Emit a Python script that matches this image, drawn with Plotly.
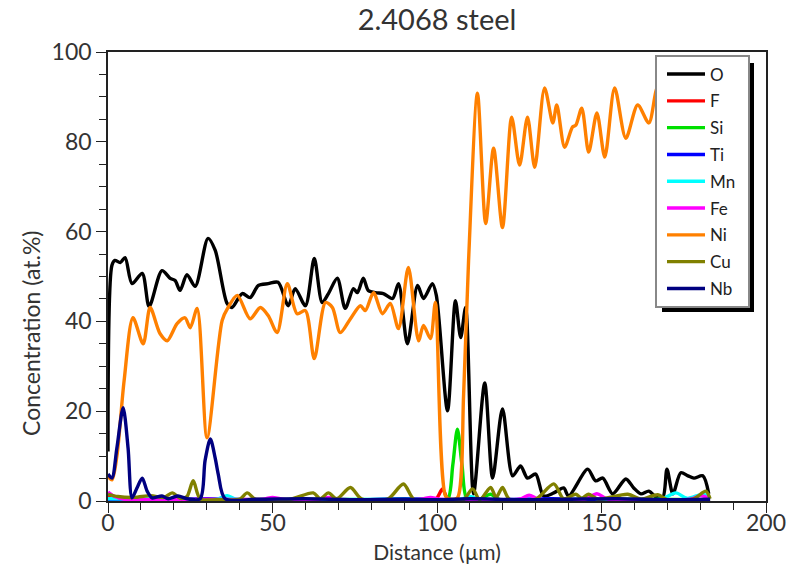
import plotly.graph_objects as go

# Line-scan positions (µm) and concentrations (at.%) for each element
o_x = [0, 1.2, 2.1, 3.7, 5.2, 7.3, 10.4, 12.5, 16.4, 18.9, 20.4, 21.9, 24.0, 26.5, 30.4, 32.6,
       36.2, 37.7, 40.8, 43.2, 45.7, 48.7, 51.7, 54.8, 56.9, 60.0, 62.7, 65.1, 67.0, 69.7, 72.1,
       74.6, 75.8, 77.6, 79.1, 81.3, 83.7, 86.5, 88.3, 91.0, 94.1, 95.9, 98.6, 99.8, 103.2,
       105.6, 107.2, 108.7, 111.1, 114.5, 116.9, 119.9, 123.0, 125.4, 127.5, 130.0, 132.4,
       135.5, 138.5, 140.0, 145.8, 148.2, 150.4, 153.4, 157.4, 159.8, 162.0, 164.4, 166.5,
       168.6, 169.9, 171.7, 174.1, 176.3, 178.1, 180.8, 182.6]
o_y = [11, 52.5, 53.6, 53.1, 54.2, 48.4, 50.7, 43.3, 51.3, 49.6, 49.1, 46.9, 50.4, 47.8, 58.5, 55.8,
       44.0, 43.1, 46.2, 45.3, 48.0, 48.4, 48.7, 43.5, 47.3, 43.5, 54.0, 44.2, 46.2, 49.6, 42.9,
       47.3, 46.4, 49.6, 46.9, 46.4, 46.2, 45.1, 48.4, 35.0, 48.0, 45.1, 48.4, 45.8, 20.1,
       44.6, 36.4, 43.1, 1.6, 26.3, 5.1, 20.5, 5.6, 7.8, 5.1, 6.0, 1.1,
       1.8, 2.9, 1.1, 7.1, 4.5, 5.1, 1.6, 4.9, 2.9, 1.6, 2.2, 0.9,
       0.7, 7.1, 1.6, 6.3, 5.6, 5.1, 5.6, 1.6]

ni_x = [0, 1.2, 2.7, 4.9, 7.6, 10.7, 12.8, 15.8, 18.0, 21.0, 23.4, 25.0, 27.1, 30.1, 34.7, 36.5,
        39.3, 43.2, 46.3, 48.7, 51.4, 54.5, 57.5, 60.0, 62.7, 66.1, 68.2, 70.6, 73.7, 76.7, 78.2,
        80.7, 83.4, 85.8, 88.3, 91.3, 94.4, 95.9, 98.0, 99.5, 102.6, 104.1, 106.2, 108.1, 109.6,
        112.3, 114.8, 117.2, 119.9, 122.7, 125.1, 127.5, 129.7, 132.7, 135.2, 136.4, 138.8,
        141.2, 142.2, 144.0, 146.1, 148.6, 151.0, 154.0, 157.4, 161.0, 164.4, 167.1, 170.0,
        173.0, 176.0, 179.0, 182.6]
ni_y = [5.5, 4.7, 10.0, 26.8, 40.8, 35.0, 43.1, 37.3, 35.7, 39.5, 40.8, 38.6, 42.9, 14.1, 40.2, 43.1,
        45.8, 40.6, 43.1, 41.3, 37.5, 48.4, 41.7, 42.4, 31.7, 44.2, 43.1, 37.5, 40.6, 43.5, 42.4,
        46.4, 41.7, 44.0, 38.4, 52.0, 35.7, 39.1, 36.2, 44.2, 1.1, 0.4, 0.7, 23.9, 53.6,
        90.8, 61.8, 78.6, 60.9, 85.5, 74.8, 85.5, 74.3, 92.0, 84.2, 88.2, 78.8,
        83.3, 83.7, 87.5, 77.7, 86.4, 76.6, 92.0, 80.8, 88.2, 84.2, 92.2, 88.0,
        91.0, 86.0, 90.0, 89.0]

nb_x = [0, 1.2, 2.7, 4.6, 6.1, 7.3, 8.8, 10.4, 11.9, 13.4, 16.4, 18.3, 21.3, 24.0, 28.0, 29.5,
        31.1, 32.6, 33.5, 35.6, 45, 60, 75, 90, 100, 110, 125, 140, 155, 170, 183]
nb_y = [6.0, 5.1, 11.8, 20.8, 11.8, 0.7, 2.9, 5.1, 2.2, 0.7, 1.1, 0.5, 1.1, 0.5, 0.5, 9.0,
        13.8, 9.5, 6.0, 0.5, 0.4, 0.5, 0.3, 0.4, 0.3, 0.5, 0.3, 0.4, 0.5, 0.3, 0.4]

cu_x = [0, 3, 8, 13, 17, 19.5, 22, 24, 25.9, 28, 33, 40, 42.3, 45, 55, 62.4, 64.5, 67, 69.5, 73.7,
        77, 85, 89.8, 93, 100, 108, 110.8, 113, 116.3, 118, 119.9, 122, 130, 135.5, 138.5,
        142.2, 144, 146, 149, 158, 162, 167.1, 170, 178, 181.7, 183]
cu_y = [1.5, 1.0, 0.8, 1.2, 0.8, 1.8, 0.6, 1.0, 4.5, 0.5, 0.3, 0.4, 1.8, 0.3, 0.3, 1.8, 0.5, 1.8, 0.5, 3.0,
        0.5, 0.4, 3.8, 0.4, 0.3, 0.3, 2.7, 0.3, 3.0, 0.8, 3.0, 0.4, 0.4, 3.8, 0.5,
        1.5, 0.6, 1.5, 0.4, 1.5, 0.4, 1.4, 0.3, 0.5, 2.2, 0.5]

si_x = [0, 20, 40, 60, 80, 100, 103.2, 104.8, 106.2, 107.6, 109.2, 113, 116.3, 119, 140, 160, 183]
si_y = [0.3, 0.4, 0.3, 0.4, 0.3, 0.3, 0.3, 8.0, 16.0, 8.0, 0.3, 0.4, 1.5, 0.3, 0.3, 0.4, 0.3]

f_x = [0, 3, 30, 60, 90, 99.5, 101.7, 103.5, 120, 150, 183]
f_y = [1.0, 0.3, 0.2, 0.3, 0.2, 0.3, 2.7, 0.3, 0.2, 0.3, 0.2]

mn_x = [0, 20, 33, 36.2, 39, 60, 90, 107, 110, 113, 143, 146, 149, 168, 172.6, 176, 181, 183]
mn_y = [0.5, 0.4, 0.4, 1.2, 0.4, 0.3, 0.4, 0.3, 1.0, 0.3, 0.4, 1.0, 0.4, 0.4, 1.8, 0.6, 1.5, 0.5]

fe_x = [0, 2, 5, 30, 47, 50, 53, 64, 67, 70, 95, 98, 101, 125, 128, 131, 145, 148.6, 152, 177,
        180, 183]
fe_y = [2.0, 1.0, 0.4, 0.4, 0.4, 0.8, 0.4, 0.4, 0.8, 0.4, 0.4, 0.8, 0.4, 0.4, 1.3, 0.4, 0.4, 1.6, 0.4, 0.4,
        1.2, 0.5]

ti_x = [0, 15, 30, 45, 60, 75, 90, 105, 120, 135, 150, 165, 183]
ti_y = [0.3, 0.2, 0.5, 0.2, 0.3, 0.2, 0.5, 0.2, 0.3, 0.5, 0.2, 0.3, 0.2]

series = [
    ("O", o_x, o_y, "#000000"),
    ("F", f_x, f_y, "#ff0000"),
    ("Si", si_x, si_y, "#00e000"),
    ("Ti", ti_x, ti_y, "#0000ff"),
    ("Mn", mn_x, mn_y, "#00ffff"),
    ("Fe", fe_x, fe_y, "#ff00ff"),
    ("Ni", ni_x, ni_y, "#ff8000"),
    ("Cu", cu_x, cu_y, "#808000"),
    ("Nb", nb_x, nb_y, "#000080"),
]

FONT = "Lato"
PLOT_L, PLOT_R, PLOT_T, PLOT_B = 108, 766, 52, 501
PW, PH = PLOT_R - PLOT_L, PLOT_B - PLOT_T


def px_x(p):
    return (p - PLOT_L) / PW


def px_y(p):
    return (PLOT_B - p) / PH


fig = go.Figure()
for name, xs, ys, color in series:
    fig.add_trace(go.Scatter(
        x=xs, y=ys, name=name, mode="lines", legendgroup=name,
        line=dict(color=color, width=3.4, shape="spline", smoothing=0.8),
    ))

axis_common = dict(
    showline=True, linecolor="#222", linewidth=1.5, mirror=True,
    ticks="outside", ticklen=10, tickwidth=1.2, tickcolor="#222",
    showgrid=False, zeroline=False, automargin=False,
    tickfont=dict(family=FONT, size=23, color="#333"),
)

fig.update_xaxes(
    range=[0, 200], dtick=50, ticklabelstandoff=-9,
    minor=dict(ticks="outside", dtick=10, ticklen=7, tickcolor="#222", tickwidth=1.2),
    title=dict(text="Distance (µm)", font=dict(family=FONT, size=21, color="#333"), standoff=10),
    **axis_common,
)
fig.update_yaxes(
    range=[0, 100], dtick=20,
    minor=dict(ticks="outside", dtick=5, ticklen=7, tickcolor="#222", tickwidth=1.2),
    **axis_common,
)

# Vertical axis label
fig.add_annotation(text="Concentration (at.%)", textangle=-90,
                   xref="paper", yref="paper", x=px_x(31), y=px_y(334),
                   xanchor="center", yanchor="middle", showarrow=False,
                   font=dict(family=FONT, size=23, color="#333"))

# Legend frame: black drop shadow, then white box with grey border
LEG_L, LEG_T, LEG_R, LEG_B = 656, 56, 749, 307
fig.add_shape(type="rect", xref="paper", yref="paper",
              x0=px_x(LEG_L + 6), x1=px_x(LEG_R + 5), y0=px_y(LEG_B + 5), y1=px_y(LEG_T + 7),
              fillcolor="black", line=dict(width=0), layer="above")
fig.add_shape(type="rect", xref="paper", yref="paper",
              x0=px_x(LEG_L), x1=px_x(LEG_R), y0=px_y(LEG_B), y1=px_y(LEG_T),
              fillcolor="white", line=dict(color="#888", width=2), layer="above")

fig.update_layout(
    width=791, height=568,
    margin=dict(l=PLOT_L, r=791 - PLOT_R, t=PLOT_T, b=568 - PLOT_B),
    paper_bgcolor="white", plot_bgcolor="white",
    title=dict(text="2.4068 steel", x=(PLOT_L + PLOT_R) / 2 / 791, xanchor="center",
               y=1 - 20 / 568, yanchor="middle",
               font=dict(family=FONT, size=29, color="#333")),
    legend=dict(
        x=px_x(662), y=px_y(LEG_T + 0.5), xanchor="left", yanchor="top",
        bgcolor="rgba(0,0,0,0)", borderwidth=0,
        font=dict(family=FONT, size=17, color="#222"),
        tracegroupgap=1.7, itemwidth=38,
    ),
    showlegend=True,
)

fig.write_html("out.html")
